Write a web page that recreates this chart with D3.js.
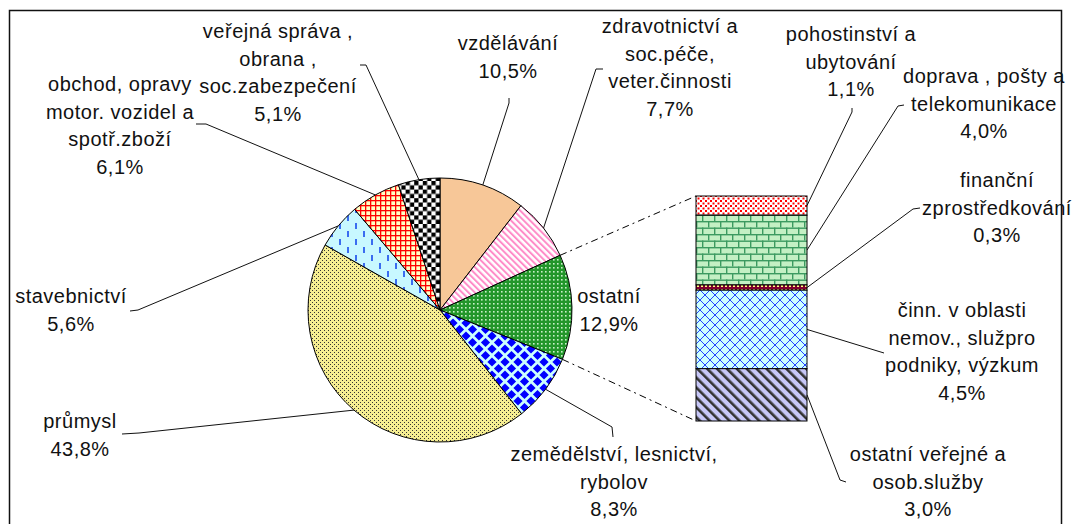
<!DOCTYPE html>
<html>
<head>
<meta charset="utf-8">
<script src="https://cdn.jsdelivr.net/npm/d3@7"></script>
<style>
  body { margin: 0; background: #fff; }
  svg { display: block; font-family: "Liberation Sans", Arial, sans-serif; }
</style>
</head>
<body>
<svg id="chart" width="1072" height="524"></svg>
<script>
// pie slices, clockwise from 12 o'clock
const pieLabels = [
  ["vzdělávání"],
  ["zdravotnictví a", "soc.péče,", "veter.činnosti"],
  ["ostatní"],
  ["zemědělství, lesnictví,", "rybolov"],
  ["průmysl"],
  ["stavebnictví"],
  ["obchod, opravy", "motor. vozidel a", "spotř.zboží"],
  ["veřejná správa ,", "obrana ,", "soc.zabezpečení"]
];
const pieValues = [10.5, 7.7, 12.9, 8.3, 43.8, 5.6, 6.1, 5.1];

// "ostatní" broken out into the bar, top to bottom
const barLabels = [
  ["pohostinství a", "ubytování"],
  ["doprava , pošty a", "telekomunikace"],
  ["finanční", "zprostředkování"],
  ["činn. v oblasti", "nemov., služpro", "podniky, výzkum"],
  ["ostatní veřejné a", "osob.služby"]
];
const barValues = [1.1, 4.0, 0.3, 4.5, 3.0];

const pieFills = ["url(#p-peach)", "url(#p-pink)", "url(#p-green)", "url(#p-diamond)",
  "url(#p-dots)", "url(#p-dashes)", "url(#p-grid)", "url(#p-checker)"];
const barFills = ["url(#p-confetti)", "url(#p-brick)", "url(#p-maroon)", "url(#p-cross)", "url(#p-stripe)"];

// label placement: text centre, first baseline, leader start on label side
const pieLabelPos = [
  { x: 508, y: 50, from: [[509, 98], [509, 103]] },
  { x: 670, y: 33, from: [[603, 69], [596, 69]] },
  { x: 609, y: 303, from: null },
  { x: 614, y: 461, from: [[613, 437], [612, 427]] },
  { x: 80, y: 428, from: [[122, 434], [139, 433]] },
  { x: 71, y: 303, from: [[130, 311], [138, 310]] },
  { x: 120, y: 91, from: [[196, 124], [206, 124]] },
  { x: 278, y: 38, from: [[360, 65], [366, 65]] }
];
const barLabelPos = [
  { x: 851, y: 41, from: [[852, 108], [852, 112]] },
  { x: 984, y: 83, from: [[904, 105], [898, 106]] },
  { x: 997, y: 187, from: [[920, 208], [913, 209]] },
  { x: 962, y: 317, from: [[884, 353]] },
  { x: 928, y: 461, from: [[846, 482], [840, 480]] }
];

const lineHeight = 27.5;
const pct = v => d3.format(".1f")(v).replace(".", ",") + "%";

const svg = d3.select("#chart");
const defs = svg.append("defs");

function pattern(id, w, h, bg, transform) {
  const p = defs.append("pattern")
    .attr("id", id)
    .attr("patternUnits", "userSpaceOnUse")
    .attr("width", w)
    .attr("height", h);
  if (transform) p.attr("patternTransform", transform);
  p.append("rect").attr("width", w).attr("height", h).attr("fill", bg);
  return p;
}

pattern("p-peach", 4, 4, "#f7c798");

pattern("p-pink", 4.5, 4.5, "#fff", "rotate(-45)")
  .append("rect").attr("width", 2).attr("height", 4.5).attr("fill", "#ff8cc8");

const g = pattern("p-green", 4, 4, "#22962a");
g.append("rect").attr("x", 1).attr("y", 1).attr("width", 1.6).attr("height", 1.6).attr("fill", "#c8f0c8");

const dm = pattern("p-diamond", 13, 13, "#ccffff");
[[6.5, 6.5], [0, 0], [13, 0], [0, 13], [13, 13]].forEach(([px, py]) => {
  dm.append("polygon")
    .attr("points", `${px},${py - 4.6} ${px + 4.6},${py} ${px},${py + 4.6} ${px - 4.6},${py}`)
    .attr("fill", "#0000ff");
});

const dt = pattern("p-dots", 4, 4, "#f6ee92");
dt.append("rect").attr("width", 1).attr("height", 1).attr("fill", "#333");
dt.append("rect").attr("x", 2).attr("y", 2).attr("width", 1).attr("height", 1).attr("fill", "#333");

const ds = pattern("p-dashes", 16, 16, "#c8f8ff");
ds.append("rect").attr("x", 3).attr("y", 1).attr("width", 2).attr("height", 6).attr("fill", "#3a6cf0");
ds.append("rect").attr("x", 11).attr("y", 9).attr("width", 2).attr("height", 6).attr("fill", "#3a6cf0");

const gr = pattern("p-grid", 5, 5, "#ffffc4");
gr.append("rect").attr("width", 5).attr("height", 1.3).attr("fill", "#ff0000");
gr.append("rect").attr("width", 1.3).attr("height", 5).attr("fill", "#ff0000");

const ck = pattern("p-checker", 8.6, 8.6, "#fff");
ck.append("rect").attr("width", 4.3).attr("height", 4.3).attr("fill", "#000");
ck.append("rect").attr("x", 4.3).attr("y", 4.3).attr("width", 4.3).attr("height", 4.3).attr("fill", "#000");

const cf = pattern("p-confetti", 5, 5, "#fff");
cf.append("rect").attr("width", 2).attr("height", 2).attr("fill", "#ff0000");
cf.append("rect").attr("x", 2.5).attr("y", 2.5).attr("width", 2).attr("height", 2).attr("fill", "#ff0000");

const br = pattern("p-brick", 12, 13, "#c4f0c4");
br.append("rect").attr("width", 12).attr("height", 1.4).attr("fill", "#3c9a60");
br.append("rect").attr("y", 6.5).attr("width", 12).attr("height", 1.4).attr("fill", "#3c9a60");
br.append("rect").attr("width", 1.4).attr("height", 6.5).attr("fill", "#3c9a60");
br.append("rect").attr("x", 6).attr("y", 6.5).attr("width", 1.4).attr("height", 6.5).attr("fill", "#3c9a60");

const mr = pattern("p-maroon", 4, 4, "#800030");
mr.append("rect").attr("x", 1).attr("y", 1).attr("width", 2).attr("height", 2).attr("fill", "#ffff80");

const cr = pattern("p-cross", 10, 10, "#ccffff");
cr.append("path").attr("d", "M0,0L10,10M10,0L0,10").attr("stroke", "#2244ff").attr("stroke-width", 1);

pattern("p-stripe", 7, 7, "#c8c8f8", "rotate(-45)")
  .append("rect").attr("width", 2.6).attr("height", 7).attr("fill", "#333");

// frame
svg.append("rect")
  .attr("x", 9.5).attr("y", 10.5)
  .attr("width", 1052).attr("height", 540)
  .attr("fill", "none").attr("stroke", "#111").attr("stroke-width", 1.5);

// pie
const cx = 440, cy = 310, radius = 132;
const pie = d3.pie().sort(null).value(d => d)(pieValues);
const arc = d3.arc().innerRadius(0).outerRadius(radius);
const pointAt = (angle, r) => [cx + r * Math.sin(angle), cy - r * Math.cos(angle)];

const pieG = svg.append("g").attr("transform", `translate(${cx},${cy})`);
pieG.selectAll("path")
  .data(pie)
  .enter()
  .append("path")
  .attr("d", arc)
  .attr("fill", (d, i) => pieFills[i])
  .attr("stroke", "#000")
  .attr("stroke-width", 1);

// bar of pie
const barX0 = 696, barX1 = 807;
const y = d3.scaleLinear().domain([0, d3.sum(barValues)]).range([196, 421]);
const stacks = barValues.map((v, i) => {
  const start = d3.sum(barValues.slice(0, i));
  return { value: v, y0: y(start), y1: y(start + v) };
});

svg.append("g").selectAll("rect")
  .data(stacks)
  .enter()
  .append("rect")
  .attr("x", barX0)
  .attr("y", d => d.y0)
  .attr("width", barX1 - barX0)
  .attr("height", d => d.y1 - d.y0)
  .attr("fill", (d, i) => barFills[i])
  .attr("stroke", "#000")
  .attr("stroke-width", 1);

// connectors from "ostatní" slice to the bar
const other = pie[2];
const line = d3.line();
[[pointAt(other.startAngle, radius), [barX0, y.range()[0]]],
 [pointAt(other.endAngle, radius), [barX0, y.range()[1]]]].forEach(pts => {
  svg.append("path")
    .attr("d", line(pts))
    .attr("fill", "none")
    .attr("stroke", "#000")
    .attr("stroke-width", 1)
    .attr("stroke-dasharray", "7,4,2,4");
});

// leaders
const leaders = svg.append("g").attr("fill", "none").attr("stroke", "#111").attr("stroke-width", 1);
pie.forEach((d, i) => {
  const pos = pieLabelPos[i];
  if (!pos.from) return;
  const mid = (d.startAngle + d.endAngle) / 2;
  leaders.append("path").attr("d", line([...pos.from, pointAt(mid, radius)]));
});
stacks.forEach((d, i) => {
  const pos = barLabelPos[i];
  leaders.append("path").attr("d", line([...pos.from, [barX1, (d.y0 + d.y1) / 2]]));
});

// labels
function drawLabel(lines, value, pos) {
  const t = svg.append("text")
    .attr("text-anchor", "middle")
    .attr("font-size", 20)
    .attr("letter-spacing", 0.5)
    .attr("fill", "#111");
  [...lines, pct(value)].forEach((s, k) => {
    t.append("tspan").attr("x", pos.x).attr("y", pos.y + k * lineHeight).text(s);
  });
}
pieValues.forEach((v, i) => drawLabel(pieLabels[i], v, pieLabelPos[i]));
barValues.forEach((v, i) => drawLabel(barLabels[i], v, barLabelPos[i]));
</script>
</body>
</html>
